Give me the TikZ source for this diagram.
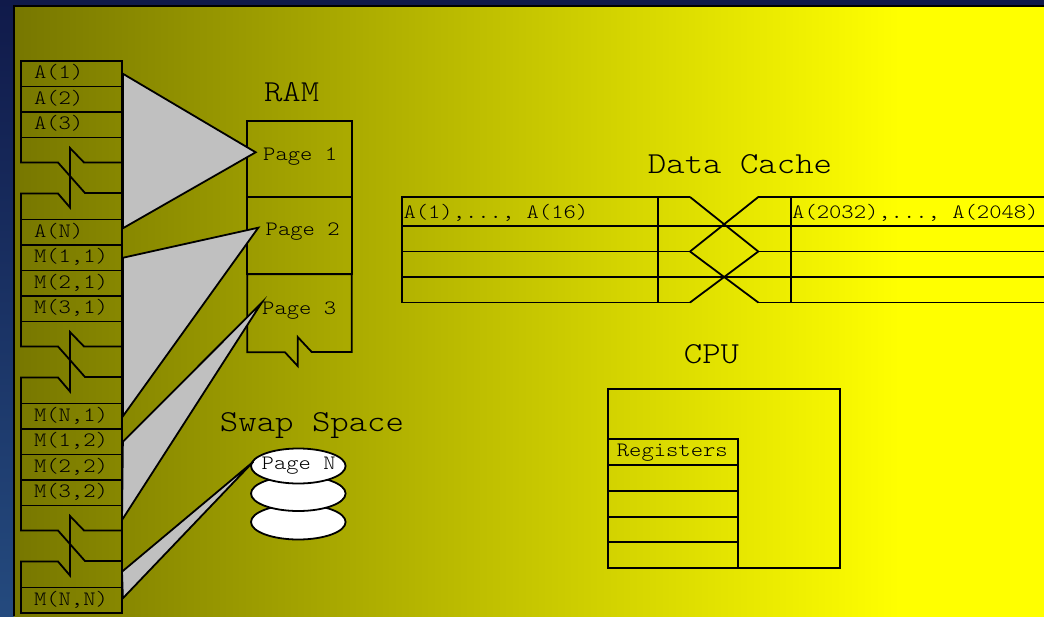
\documentclass[tikz,border=0pt]{standalone}
\usepackage{fontspec}
\setmonofont[Extension=.otf,FakeStretch=1.15]{lmmonolt10-regular}
\usetikzlibrary{shapes.geometric,calc}
\definecolor{bgtop}{HTML}{101A4A}
\definecolor{bgbot}{HTML}{244A7E}
\definecolor{olivezero}{HTML}{777700}
\definecolor{brightyellow}{HTML}{FFFF00}
\definecolor{wedgegray}{HTML}{C0C0C0}
\pgfdeclarehorizontalshading{bgshade}{100bp}{color(0bp)=(olivezero); color(25bp)=(olivezero); color(68bp)=(brightyellow); color(100bp)=(brightyellow)}
\tikzset{
  ln/.style={line width=1.8pt, line join=miter},
  smalltext/.style={font=\fontsize{20.4}{22}\selectfont\ttfamily, inner sep=0pt},
  bigtext/.style={font=\fontsize{30.5}{32}\selectfont\ttfamily, inner sep=0pt},
  cell/.style={draw, ln, minimum width=101pt, minimum height=25.5pt,
    inner xsep=13pt, inner ysep=0pt, text width=75pt, align=left,
    text height=17.7pt, text depth=7.8pt, font=\fontsize{20.4}{22}\selectfont\ttfamily},
  wedge/.style={fill=wedgegray, draw=black, line width=1.8pt, line join=miter},
  disk/.style={ellipse, draw, ln, fill=white, minimum width=94.6pt, minimum height=35pt, inner sep=0pt}
}
\newcommand{\brkcell}[1]{%
  \draw[ln] (21,#1) -- (21,#1+25) -- (58,#1+25) -- (85,#1+55.5) -- (122,#1+55.5);
  \draw[ln] (21,#1+82) -- (21,#1+56) -- (58,#1+56) -- (70,#1+70) -- (70,#1+10.5) -- (84,#1+25) -- (122,#1+25);
  \draw[ln] (122,#1) -- (122,#1+82);
}
\begin{document}
\begin{tikzpicture}[x=1pt,y=-1pt]
\useasboundingbox (0,0) rectangle (1044,616);
% background
\shade[top color=bgtop,bottom color=bgbot] (0,0) rectangle (1044,616);
\shade[shading=bgshade] (14,6) rectangle (1044,616);
\draw[line width=1.5pt] (1044,6) -- (14,6) -- (14,616);

% left column of array elements
\node[cell] (a1) at (71.5,61+12.75) {A(1)};
\node[cell] (a2) at (71.5,86.5+12.75) {A(2)};
\node[cell] (a3) at (71.5,112+12.75) {A(3)};
\brkcell{137.5}
\node[cell] (aN) at (71.5,219.5+12.75) {A(N)};
\node[cell] (m11) at (71.5,245+12.75) {M(1,1)};
\node[cell] (m21) at (71.5,270.5+12.75) {M(2,1)};
\node[cell] (m31) at (71.5,296+12.75) {M(3,1)};
\brkcell{321.5}
\node[cell] (mN1) at (71.5,403.5+12.75) {M(N,1)};
\node[cell] (m12) at (71.5,429+12.75) {M(1,2)};
\node[cell] (m22) at (71.5,454.5+12.75) {M(2,2)};
\node[cell] (m32) at (71.5,480+12.75) {M(3,2)};
\brkcell{505.5}
\node[cell] (mNN) at (71.5,587.5+12.75) {M(N,N)};

% RAM
\node[bigtext,anchor=base] (ramlbl) at (291.7,101.7) {RAM};
\draw[ln] (247.3,121) rectangle (351.7,197.3);
\draw[ln] (247.3,197.3) rectangle (351.7,274.3);
\draw[ln] (247.3,274.3) -- (351.7,274.3) -- (351.7,352) -- (311.7,352) -- (297.7,337)
  -- (297.7,366) -- (285,352.3) -- (247.3,352.3) -- cycle;
\node[smalltext,anchor=base west] (p1) at (263,160) {Page 1};
\node[smalltext,anchor=base west] (p2) at (265.5,235.7) {Page 2};
\node[smalltext,anchor=base west] (p3) at (262,314.3) {Page 3};

% swap space
\node[bigtext,anchor=base] (swlbl) at (312,431.7) {Swap Space};
\node[disk] (sw3) at (298.3,522) {};
\node[disk] (sw2) at (298.3,493.5) {};
\node[disk] (sw1) at (298.3,466) {};
\node[smalltext,anchor=base west] (pN) at (261.5,469.3) {Page N};

% wedges
\coordinate (t1) at (255.7,152.3);
\coordinate (t2) at (258.3,227.7);
\coordinate (t3) at (261.7,302.7);
\coordinate (tN) at (253.3,461.7);
\coordinate (b3) at (122,520);
\coordinate (b4) at (122,571.7);
\draw[wedge] (a1.east) -- (t1) -- ($(aN.east)+(0,-4)$) -- cycle;
\draw[wedge] (m11.east) -- (t2) -- (mN1.east) -- cycle;
\draw[wedge] (m12.east) -- (t3) -- (b3) -- cycle;
\draw[wedge] (b4) -- (tN) -- ($(mNN.east)+(0,-2)$) -- cycle;

% data cache
\node[bigtext,anchor=base] (dclbl) at (740,173.3) {Data Cache};
\draw[ln] (690,197) -- (402,197) -- (402,302.5) -- (690,302.5);
\draw[ln] (402,251.5) -- (690,251.5);
\draw[ln] (402,226) -- (1044,226);
\draw[ln] (402,277) -- (1044,277);
\draw[ln] (658.3,197) -- (658.3,302.5);
\draw[ln] (690,197) -- (758.3,251.5);
\draw[ln] (758.3,197) -- (690,251.5);
\draw[ln] (690,251.5) -- (758.3,302.5);
\draw[ln] (758.3,251.5) -- (690,302.5);
\draw[ln] (758.3,197) -- (1044,197);
\draw[ln] (758.3,251.5) -- (1044,251.5);
\draw[ln] (758.3,302.5) -- (1044,302.5);
\draw[ln] (790.7,197) -- (790.7,302.5);
\node[smalltext,anchor=base west] (c1) at (403.3,218.3) {A(1),..., A(16)};
\node[smalltext,anchor=base west] (c2) at (792,218.3) {A(2032),..., A(2048)};

% CPU
\node[bigtext,anchor=base] (cpulbl) at (711.5,363.3) {CPU};
\draw[ln] (608.3,389) rectangle (840.3,568);
\draw[ln] (608.3,439.3) -- (738,439.3) -- (738,568);
\draw[ln] (608.3,465.3) -- (738,465.3);
\draw[ln] (608.3,491) -- (738,491);
\draw[ln] (608.3,516.7) -- (738,516.7);
\draw[ln] (608.3,542.3) -- (738,542.3);
\node[smalltext,anchor=base west] (reg) at (616.7,456.7) {Registers};
\end{tikzpicture}
\end{document}
